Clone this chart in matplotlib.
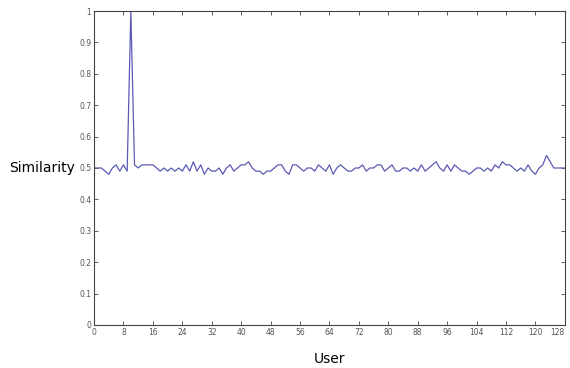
import numpy as np
import matplotlib
matplotlib.use("Agg")
import matplotlib.pyplot as plt

users = np.arange(0, 129)
similarity = [
    0.50, 0.50, 0.50, 0.49, 0.48, 0.50, 0.51, 0.49, 0.51, 0.49,
    1.00, 0.51, 0.50, 0.51, 0.51, 0.51, 0.51, 0.50, 0.49, 0.50,
    0.49, 0.50, 0.49, 0.50, 0.49, 0.51, 0.49, 0.52, 0.49, 0.51,
    0.48, 0.50, 0.49, 0.49, 0.50, 0.48, 0.50, 0.51, 0.49, 0.50,
    0.51, 0.51, 0.52, 0.50, 0.49, 0.49, 0.48, 0.49, 0.49, 0.50,
    0.51, 0.51, 0.49, 0.48, 0.51, 0.51, 0.50, 0.49, 0.50, 0.50,
    0.49, 0.51, 0.50, 0.49, 0.51, 0.48, 0.50, 0.51, 0.50, 0.49,
    0.49, 0.50, 0.50, 0.51, 0.49, 0.50, 0.50, 0.51, 0.51, 0.49,
    0.50, 0.51, 0.49, 0.49, 0.50, 0.50, 0.49, 0.50, 0.49, 0.51,
    0.49, 0.50, 0.51, 0.52, 0.50, 0.49, 0.51, 0.49, 0.51, 0.50,
    0.49, 0.49, 0.48, 0.49, 0.50, 0.50, 0.49, 0.50, 0.49, 0.51,
    0.50, 0.52, 0.51, 0.51, 0.50, 0.49, 0.50, 0.49, 0.51, 0.49,
    0.48, 0.50, 0.51, 0.54, 0.52, 0.50, 0.50, 0.50, 0.50,
]
xticks = np.arange(0, 129, 8)
yticks = np.round(np.arange(0, 1.01, 0.1), 1)
ytick_labels = ["0"] + [f"{v:.1f}" for v in yticks[1:-1]] + ["1"]

fig = plt.figure(figsize=(5.7, 3.68), dpi=100)
ax = fig.add_axes([0.165, 0.117, 0.826, 0.853])
ax.plot(users, similarity, color="#5a5ab4", linewidth=0.9)

ax.set_xlim(0, 128)
ax.set_ylim(0, 1)
ax.set_xticks(xticks)
ax.set_yticks(yticks)
ax.set_yticklabels(ytick_labels)
ax.tick_params(direction="in", top=True, right=True, length=3, width=0.6,
               labelsize=5.5, labelcolor="#555555", color="#444444", pad=2)
# last x label would run off the figure edge
ax.get_xticklabels()[-1].set_ha("right")
for s in ax.spines.values():
    s.set_color("#444444")
    s.set_linewidth(0.8)

ax.set_ylabel("Similarity", rotation=0, fontsize=10, ha="right", va="center")
ax.yaxis.set_label_coords(-0.04, 0.5)
ax.set_xlabel("User", fontsize=10, va="center")
ax.xaxis.set_label_coords(0.5, -0.11)

fig.savefig("out.png", dpi=100)
